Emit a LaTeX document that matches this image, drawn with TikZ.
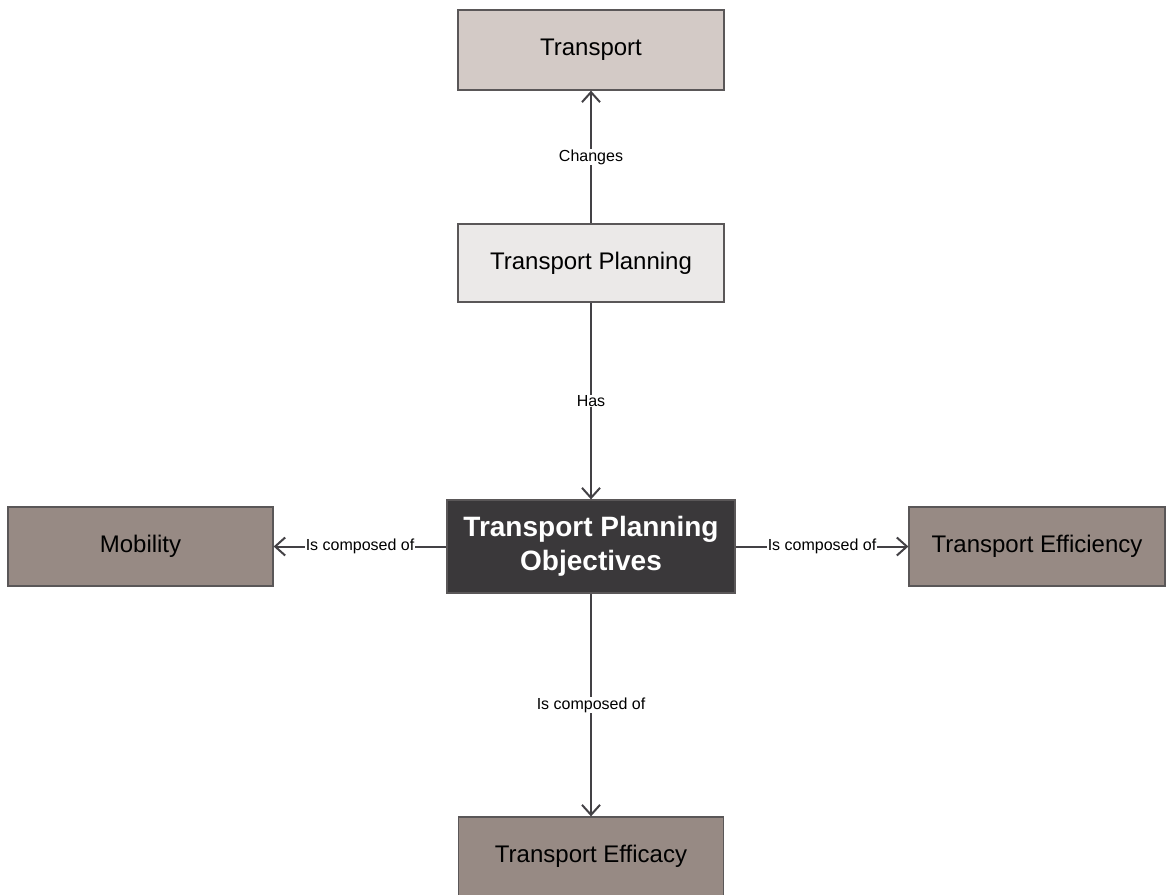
\documentclass[tikz,border=0pt]{standalone}
\usepackage{fontspec}
\setmainfont{Liberation Sans}
\usetikzlibrary{arrows.meta}
\definecolor{bordc}{HTML}{5A5758}
\definecolor{linec}{HTML}{434145}
\definecolor{fillA}{HTML}{D3CAC6}
\definecolor{fillB}{HTML}{EBE9E8}
\definecolor{fillC}{HTML}{3A383A}
\definecolor{fillD}{HTML}{978A84}
\tikzset{
  box/.style={draw=bordc, line width=1.3pt, inner sep=0pt, align=center,
    font=\fontsize{24}{28}\selectfont, text=black},
  conn/.style={draw=linec, line width=2pt,
    -{Straight Barb[length=10pt,width=18pt,line width=2pt]}},
  lbl/.style={fill=white, inner sep=0.5pt, font=\fontsize{16}{19}\selectfont, text=black}
}
\begin{document}
\begin{tikzpicture}[x=1pt,y=-1pt]
\useasboundingbox (0,0) rectangle (1166,894);
\node[box, fill=fillA, minimum width=266pt, minimum height=80pt] (tr) at (591,50) {Transport};
\node[box, fill=fillB, minimum width=266pt, minimum height=78pt] (tp) at (591,263) {Transport Planning};
\node[box, fill=fillC, text=white, minimum width=288pt, minimum height=93pt,
  font=\bfseries\fontsize{28}{34}\selectfont] (obj) at (591,546.5) {Transport Planning\\Objectives};
\node[box, fill=fillD, minimum width=265pt, minimum height=79pt] (mob) at (140.5,546.5) {Mobility};
\node[box, fill=fillD, minimum width=256pt, minimum height=79pt] (eff) at (1037,546.5) {Transport Efficiency};
\node[box, fill=fillD, minimum width=265pt, minimum height=79pt] (efc) at (591,856.5) {Transport Efficacy};
\draw[conn] (tp) -- node[lbl] {Changes} (tr);
\draw[conn] (tp) -- node[lbl] {Has} (obj);
\draw[conn] (obj) -- node[lbl] {Is composed of} (mob);
\draw[conn] (obj) -- node[lbl] {Is composed of} (eff);
\draw[conn] (obj) -- node[lbl] {Is composed of} (efc);
\end{tikzpicture}
\end{document}
